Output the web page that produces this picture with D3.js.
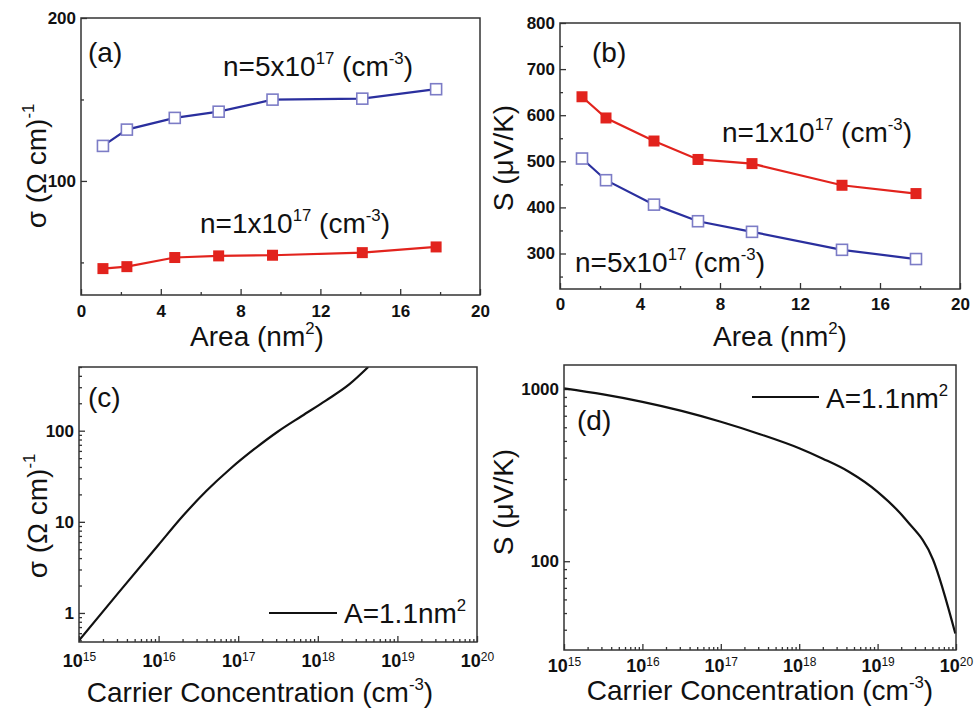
<!DOCTYPE html>
<html>
<head>
<meta charset="utf-8">
<script src="https://cdn.jsdelivr.net/npm/d3@7"></script>
<style>
  body { margin: 0; background: #fff; }
  svg { display: block; font-family: "Liberation Sans", Arial, sans-serif; }
  .tick text { font-weight: bold; font-size: 17px; fill: #111; }
  .tick line { stroke: #333; stroke-width: 1.3; }
</style>
</head>
<body>
<svg id="fig" width="980" height="715"></svg>
<script>
// panel (a) and (b): nanowire cross-section area (nm^2)
let areaNm2 = [1.1, 2.3, 4.7, 6.9, 9.6, 14.1, 17.8];
let sigmaN5 = [121.5, 131.5, 138.7, 142.5, 149.9, 150.5, 156.3];
let sigmaN1 = [46.2, 47.4, 53, 54, 54.4, 56, 59.5];
let seebeckN1 = [640, 594, 544, 504, 495, 448, 430];
let seebeckN5 = [506, 459, 406, 370, 347, 308, 288];

// panel (c): conductivity vs carrier concentration
let carrierC = [1e15, 3.16e15, 1e16, 2e16, 4e16, 7.9e16, 1.6e17, 3.16e17, 6.3e17, 1.26e18, 2.5e18, 4.3e18];
let sigmaC = [0.5, 1.68, 5.6, 11.5, 21.9, 38, 63, 98, 145, 214, 324, 500];

// panel (d): Seebeck vs carrier concentration
let carrierD = [1e15, 3.16e15, 1e16, 3.16e16, 1e17, 3.16e17, 1e18, 2e18, 4.3e18, 1e19, 2.3e19, 5.1e19, 9.8e19];
let seebeckD = [1009, 931, 843, 747, 646, 547, 453, 394, 331, 253, 174, 102, 38];

let areaTicks = [0, 4, 8, 12, 16, 20];
let areaMinor = [2, 6, 10, 14, 18];
let decadeTicks = [1e15, 1e16, 1e17, 1e18, 1e19, 1e20];

const RED = "#e2231d";
const BLUE = "#2a2f9e";
const BLUE_MARK = "#7c7cc6";

const svg = d3.select("#fig");

/**
 * Writes a text with superscript parts
 * @param parts array of [string, isSup]
 */
function richText(parent, x, y, parts, size, anchor) {
    let t = parent.append("text")
        .attr("x", x).attr("y", y)
        .attr("font-size", size)
        .attr("fill", "#111")
        .attr("text-anchor", anchor || "start");
    let shift = 0;
    parts.forEach(p => {
        let want = p[1] ? -0.42 * size : 0;
        t.append("tspan")
            .attr("dy", want - shift)
            .attr("font-size", p[1] ? size * 0.6 : size)
            .text(p[0]);
        shift = want;
    });
    return t;
}

function frame(x, y) {
    svg.append("rect")
        .attr("x", x.range()[0]).attr("y", y.range()[1])
        .attr("width", x.range()[1] - x.range()[0])
        .attr("height", y.range()[0] - y.range()[1])
        .attr("fill", "none").attr("stroke", "#333").attr("stroke-width", 1.5);
}

function linearAxes(x, y, yMajor, yMinor, labelPad) {
    let b = y.range()[0], l = x.range()[0];
    svg.append("g").attr("transform", `translate(0,${b})`)
        .call(d3.axisBottom(x).tickValues(areaTicks).tickSize(-6).tickPadding(labelPad))
        .call(g => g.select(".domain").remove());
    svg.append("g").attr("transform", `translate(0,${b})`)
        .call(d3.axisBottom(x).tickValues(areaMinor).tickSize(-3).tickFormat(""))
        .call(g => g.select(".domain").remove());
    svg.append("g").attr("transform", `translate(${l},0)`)
        .call(d3.axisLeft(y).tickValues(yMajor).tickSize(-6).tickPadding(5))
        .call(g => g.select(".domain").remove());
    svg.append("g").attr("transform", `translate(${l},0)`)
        .call(d3.axisLeft(y).tickValues(yMinor).tickSize(-3).tickFormat(""))
        .call(g => g.select(".domain").remove());
}

function logXAxis(x, b, pad) {
    let minor = x.ticks().filter(v => decadeTicks.indexOf(v) < 0);
    svg.append("g").attr("transform", `translate(0,${b})`)
        .call(d3.axisBottom(x).tickValues(minor).tickSize(-3).tickFormat(""))
        .call(g => g.select(".domain").remove());
    let ax = svg.append("g").attr("transform", `translate(0,${b})`)
        .call(d3.axisBottom(x).tickValues(decadeTicks).tickSize(-6).tickPadding(pad))
        .call(g => g.select(".domain").remove());
    ax.selectAll(".tick text").each(function(d) {
        let t = d3.select(this).text("").style("font-size", "18px");
        t.append("tspan").text("10");
        t.append("tspan").attr("dy", "-0.5em").style("font-size", "12px").attr("font-weight", "normal")
            .text(Math.round(Math.log10(d)));
    });
}

function logYAxis(y, l, major, minor) {
    svg.append("g").attr("transform", `translate(${l},0)`)
        .call(d3.axisLeft(y).tickValues(minor).tickSize(-3).tickFormat(""))
        .call(g => g.select(".domain").remove());
    svg.append("g").attr("transform", `translate(${l},0)`)
        .call(d3.axisLeft(y).tickValues(major).tickSize(-6).tickPadding(5).tickFormat(d3.format("d")))
        .call(g => g.select(".domain").remove());
}

function yTitle(x, y, parts) {
    let g = svg.append("g").attr("transform", `translate(${x},${y}) rotate(-90)`);
    richText(g, 0, 0, parts, 28, "middle");
}

function series(x, y, xs, ys, lineColor, markColor, filled) {
    let pts = xs.map((v, i) => [v, ys[i]]);
    svg.append("path").datum(pts)
        .attr("fill", "none").attr("stroke", lineColor).attr("stroke-width", 2.2)
        .attr("d", d3.line().x(d => x(d[0])).y(d => y(d[1])));
    let s = 11;
    svg.append("g").selectAll("rect").data(pts).join("rect")
        .attr("x", d => x(d[0]) - s / 2).attr("y", d => y(d[1]) - s / 2)
        .attr("width", s).attr("height", s)
        .attr("fill", filled ? markColor : "#fff")
        .attr("stroke", markColor).attr("stroke-width", filled ? 0 : 1.6);
}

// ---- (a)
let xa = d3.scaleLinear([0, 20], [81, 480]);
let ya = d3.scaleLinear([30, 200], [295, 18]);
linearAxes(xa, ya, [100, 200], [50, 150], 10);
series(xa, ya, areaNm2, sigmaN5, BLUE, BLUE_MARK, false);
series(xa, ya, areaNm2, sigmaN1, RED, RED, true);
frame(xa, ya);
richText(svg, 88, 62, [["(a)", 0]], 28);
richText(svg, 223, 76, [["n=5x10", 0], ["17", 1], [" (cm", 0], ["-3", 1], [")", 0]], 28);
richText(svg, 200, 233, [["n=1x10", 0], ["17", 1], [" (cm", 0], ["-3", 1], [")", 0]], 28);
richText(svg, 257, 346, [["Area (nm", 0], ["2", 1], [")", 0]], 28, "middle");
yTitle(46, 166, [["σ (Ω cm)", 0], ["-1", 1]]);

// ---- (b)
let xb = d3.scaleLinear([0, 20], [560, 960]);
let yb = d3.scaleLinear([223, 800], [289, 23]);
linearAxes(xb, yb, [300, 400, 500, 600, 700, 800], [250, 350, 450, 550, 650, 750], 9);
series(xb, yb, areaNm2, seebeckN5, BLUE, BLUE_MARK, false);
series(xb, yb, areaNm2, seebeckN1, RED, RED, true);
frame(xb, yb);
richText(svg, 592, 62, [["(b)", 0]], 28);
richText(svg, 722, 142, [["n=1x10", 0], ["17", 1], [" (cm", 0], ["-3", 1], [")", 0]], 28);
richText(svg, 575, 272, [["n=5x10", 0], ["17", 1], [" (cm", 0], ["-3", 1], [")", 0]], 28);
richText(svg, 780, 346, [["Area (nm", 0], ["2", 1], [")", 0]], 28, "middle");
yTitle(513, 158, [["S (μV/K)", 0]]);

// ---- (c)
let xc = d3.scaleLog([1e15, 1e20], [79, 477]);
let yc = d3.scaleLog([0.48, 500], [642, 367]);
logXAxis(xc, 642, 12);
logYAxis(yc, 79, [1, 10, 100], [0.5, 0.6, 0.7, 0.8, 0.9, 2, 3, 4, 5, 6, 7, 8, 9, 20, 30, 40, 50, 60, 70, 80, 90, 200, 300, 400, 500]);
svg.append("defs").append("clipPath").attr("id", "clipc")
    .append("rect").attr("x", 79).attr("y", 367).attr("width", 398).attr("height", 275);
svg.append("path").datum(carrierC.map((v, i) => [v, sigmaC[i]]))
    .attr("clip-path", "url(#clipc)")
    .attr("fill", "none").attr("stroke", "#111").attr("stroke-width", 2.2)
    .attr("d", d3.line().x(d => xc(d[0])).y(d => yc(d[1])).curve(d3.curveMonotoneX));
frame(xc, yc);
richText(svg, 88, 407, [["(c)", 0]], 28);
svg.append("line").attr("x1", 269).attr("x2", 337).attr("y1", 613).attr("y2", 613)
    .attr("stroke", "#111").attr("stroke-width", 2.2);
richText(svg, 344, 623, [["A=1.1nm", 0], ["2", 1]], 28);
richText(svg, 260, 702, [["Carrier Concentration (cm", 0], ["-3", 1], [")", 0]], 28, "middle");
yTitle(47, 516, [["σ (Ω cm)", 0], ["-1", 1]]);

// ---- (d)
let xd = d3.scaleLog([1e15, 1e20], [564, 956]);
let yd = d3.scaleLog([30.5, 1380], [650, 365]);
logXAxis(xd, 650, 9);
logYAxis(yd, 564, [100, 1000], [40, 50, 60, 70, 80, 90, 200, 300, 400, 500, 600, 700, 800, 900]);
svg.append("path").datum(carrierD.map((v, i) => [v, seebeckD[i]]))
    .attr("fill", "none").attr("stroke", "#111").attr("stroke-width", 2.2)
    .attr("d", d3.line().x(d => xd(d[0])).y(d => yd(d[1])).curve(d3.curveMonotoneX));
frame(xd, yd);
richText(svg, 577, 430, [["(d)", 0]], 28);
svg.append("line").attr("x1", 752).attr("x2", 819).attr("y1", 397).attr("y2", 397)
    .attr("stroke", "#111").attr("stroke-width", 2.2);
richText(svg, 826, 408, [["A=1.1nm", 0], ["2", 1]], 28);
richText(svg, 760, 700, [["Carrier Concentration (cm", 0], ["-3", 1], [")", 0]], 28, "middle");
yTitle(513, 502, [["S (μV/K)", 0]]);
</script>
</body>
</html>
